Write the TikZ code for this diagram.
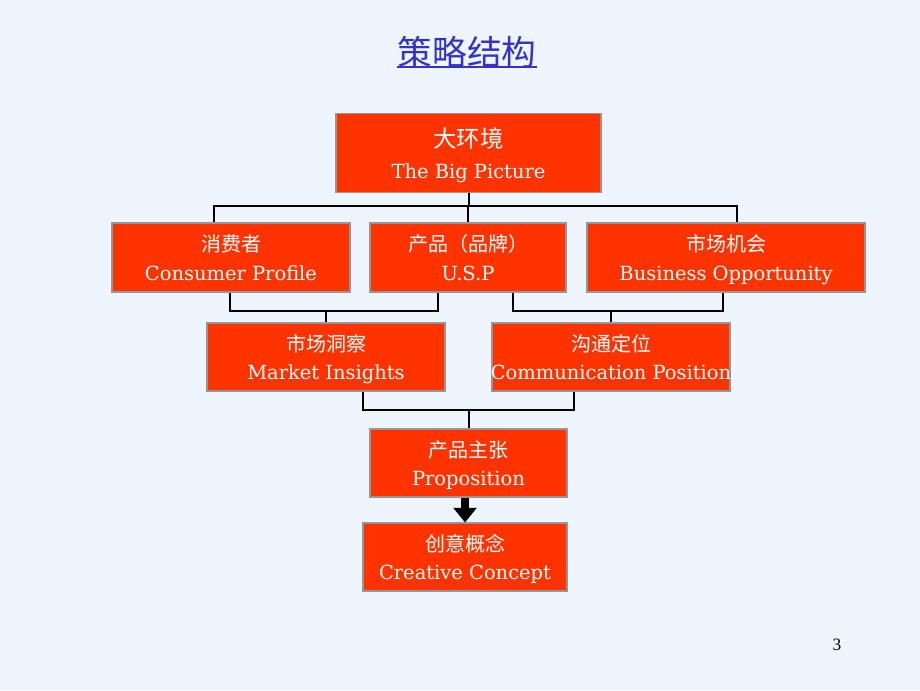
\documentclass[tikz,border=0pt]{standalone}
\usepackage{fontspec}
\setmainfont{DejaVu Serif}
\newfontfamily\cjk{Noto Sans CJK SC}
\newfontfamily\numfont{Liberation Serif}
\usetikzlibrary{arrows.meta}
\definecolor{bg}{RGB}{238,245,252}
\definecolor{boxred}{RGB}{255,51,0}
\definecolor{boxedge}{RGB}{150,150,150}
\definecolor{titleblue}{RGB}{51,51,204}
\begin{document}
\begin{tikzpicture}[x=0.75pt,y=-0.75pt,
  box/.style={draw=boxedge,line width=0.8pt,fill=boxred,inner sep=0pt,
    text=white,align=center,text depth=0pt,font=\fontsize{14.6}{21.5}\selectfont},
  conn/.style={draw=black,line width=1.5pt},
  bigarrow/.style={draw=black,line width=6pt,-{Triangle[width=17pt,length=11pt]}}]
\fill[bg] (0,0) rectangle (920,690);
\useasboundingbox (0,0) rectangle (920,690);
% title
\node[text=titleblue,font=\cjk\fontsize{26}{30}\selectfont,inner sep=1pt] (title) at (467,52) {策略结构};
\draw[titleblue,line width=1pt] (397,67) -- (537,67);
% boxes
\node[box,minimum width=265*0.75pt,minimum height=79*0.75pt] (top) at (468.5,153)
  {{\cjk\fontsize{17.5}{22}\selectfont 大环境}\\[2pt]The Big Picture};
\node[box,minimum width=238*0.75pt,minimum height=69*0.75pt] (cons) at (231,257.5)
  {{\cjk\fontsize{15}{21.5}\selectfont 消费者}\\Consumer Profile};
\node[box,minimum width=196*0.75pt,minimum height=69*0.75pt] (usp) at (468,257.5)
  {{\cjk\fontsize{15}{21.5}\selectfont 产品（品牌）}\\U.S.P};
\node[box,minimum width=278*0.75pt,minimum height=69*0.75pt] (bus) at (726,257.5)
  {{\cjk\fontsize{15}{21.5}\selectfont 市场机会}\\Business Opportunity};
\node[box,minimum width=238*0.75pt,minimum height=68*0.75pt] (mkt) at (326,357)
  {{\cjk\fontsize{15}{21.5}\selectfont 市场洞察}\\Market Insights};
\node[box,minimum width=238*0.75pt,minimum height=68*0.75pt] (com) at (611,357) {};
\begin{scope}
\clip (com.south west) rectangle (com.north east);
\node[box,draw=none,fill=none,minimum height=68*0.75pt] (comtext) at (com.center)
  {{\cjk\fontsize{15}{21.5}\selectfont 沟通定位}\\Communication Position};
\end{scope}
\node[box,minimum width=197*0.75pt,minimum height=68*0.75pt] (prop) at (468.5,463)
  {{\cjk\fontsize{15}{21.5}\selectfont 产品主张}\\Proposition};
\node[box,minimum width=204*0.75pt,minimum height=68*0.75pt] (crea) at (465,557)
  {{\cjk\fontsize{15}{21.5}\selectfont 创意概念}\\Creative Concept};
% connectors
\coordinate (b1) at (214,206);
\coordinate (b2) at (737,206);
\draw[conn] (top.south) -- (top.south |- b1);
\draw[conn] (b1 |- cons.north) -- (b1) -- (b2) -- (b2 |- bus.north);
\draw[conn] (usp.north) -- (usp.north |- b1);
\coordinate (c1) at (230,311);
\coordinate (c2) at (438,311);
\draw[conn] (c1 |- cons.south) -- (c1) -- (c2) -- (c2 |- usp.south);
\draw[conn] (mkt.north) -- (mkt.north |- c1);
\coordinate (d1) at (513,311);
\coordinate (d2) at (723,311);
\draw[conn] (d1 |- usp.south) -- (d1) -- (d2) -- (d2 |- bus.south);
\draw[conn] (com.north) -- (com.north |- d1);
\coordinate (e1) at (363,410);
\coordinate (e2) at (574,410);
\draw[conn] (e1 |- mkt.south) -- (e1) -- (e2) -- (e2 |- com.south);
\draw[conn] (prop.north) -- (prop.north |- e1);
\draw[bigarrow] (crea.north |- prop.south) -- (crea.north);
% page number
\node[font=\numfont\fontsize{13}{15}\selectfont,inner sep=0pt] (page) at (837,645) {3};
\end{tikzpicture}
\end{document}
